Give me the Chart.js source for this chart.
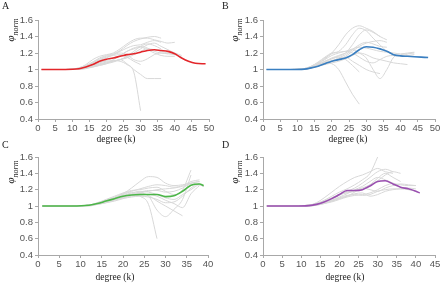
<!DOCTYPE html>
<html lang="en">
<head>
<meta charset="UTF-8">
<title>phi norm vs degree</title>
<script src="https://cdn.jsdelivr.net/npm/chart.js"></script>
<style>
  html, body { margin: 0; padding: 0; background: #fff; }
  body { width: 440px; height: 285px; position: relative; overflow: hidden; }
  canvas { position: absolute; }
  .lbl { position: absolute; font-family: "Liberation Serif", "Times New Roman", serif; color: #222; white-space: nowrap; }
  .letter { font-size: 10px; }
  .xt { font-size: 9.5px; transform: translateX(-50%); }
  .yt { font-size: 11px; transform: translate(-50%, -50%) rotate(-90deg); font-style: italic; }
  .yt sub { font-size: 8px; font-style: italic; }
</style>
</head>
<body>
<canvas id="cA" width="220" height="142" style="left:0;top:0"></canvas>
<canvas id="cB" width="220" height="142" style="left:220px;top:0"></canvas>
<canvas id="cC" width="220" height="143" style="left:0;top:142px"></canvas>
<canvas id="cD" width="220" height="143" style="left:220px;top:142px"></canvas>

<div class="lbl letter" style="left:2px;top:0px">A</div>
<div class="lbl letter" style="left:222px;top:0px">B</div>
<div class="lbl letter" style="left:2px;top:139px">C</div>
<div class="lbl letter" style="left:222px;top:139px">D</div>

<div class="lbl yt" style="left:12px;top:30px">φ<sub>norm</sub></div>
<div class="lbl yt" style="left:236px;top:30px">φ<sub>norm</sub></div>
<div class="lbl yt" style="left:12px;top:172px">φ<sub>norm</sub></div>
<div class="lbl yt" style="left:236px;top:172px">φ<sub>norm</sub></div>

<div class="lbl xt" style="left:116px;top:134px">degree (k)</div>
<div class="lbl xt" style="left:348px;top:134px">degree (k)</div>
<div class="lbl xt" style="left:115px;top:272px">degree (k)</div>
<div class="lbl xt" style="left:345px;top:272px">degree (k)</div>

<script>
// degree grids (x positions of the sampled values)
const kA = [1, 8, 12, 14, 16, 18, 20, 22, 24, 26, 28, 30, 32, 34, 36, 38, 40, 42, 44, 46, 48, 49];
const kB = [1, 8, 12, 14, 16, 18, 20, 22, 24, 26, 28, 30, 32, 34, 36, 38, 40, 42, 44, 46, 48];
const kC = [1, 8, 12, 14, 16, 18, 20, 22, 24, 26, 28, 30, 32, 34, 36, 38, 39];
const kD = [1, 8, 12, 14, 16, 18, 20, 22, 24, 26, 28, 30, 32, 34, 36, 38, 40, 41];

// highlighted (average) series
const mainA = [1, 1, 1.01, 1.03, 1.06, 1.10, 1.125, 1.14, 1.16, 1.18, 1.19, 1.21, 1.23, 1.24, 1.23, 1.22, 1.19, 1.14, 1.10, 1.075, 1.07, 1.07];
const mainB = [1, 1, 1.005, 1.02, 1.04, 1.07, 1.10, 1.12, 1.14, 1.18, 1.24, 1.275, 1.27, 1.25, 1.22, 1.18, 1.165, 1.16, 1.155, 1.15, 1.145];
const mainC = [1, 1, 1.01, 1.03, 1.06, 1.09, 1.12, 1.135, 1.14, 1.14, 1.14, 1.115, 1.125, 1.18, 1.255, 1.27, 1.25];
const mainD = [1, 1, 1.005, 1.02, 1.05, 1.09, 1.14, 1.19, 1.19, 1.20, 1.245, 1.30, 1.31, 1.27, 1.23, 1.21, 1.18, 1.16];

// individual (gray) series
const grayA = [
  [1, 1, 1.01, 1.04, 1.09, 1.14, 1.17, 1.19, 1.23, 1.29, 1.34, 1.37, 1.39, 1.40, 1.38],
  [1, 1, 1.02, 1.06, 1.12, 1.16, 1.18, 1.20, 1.25, 1.31, 1.36, 1.38, 1.38, 1.36, 1.34, 1.32, 1.33],
  [1, 1, 1.01, 1.03, 1.07, 1.11, 1.14, 1.18, 1.22, 1.26, 1.29, 1.30, 1.33, 1.35, 1.33],
  [1, 1, 1.01, 1.02, 1.05, 1.08, 1.11, 1.14, 1.17, 1.22, 1.26, 1.28, 1.26, 1.22, 1.20, 1.19, 1.18],
  [1, 1, 1.00, 1.02, 1.04, 1.06, 1.08, 1.10, 1.12, 1.15, 1.20, 1.25, 1.30, 1.32, 1.28, 1.24, 1.20, 1.17],
  [1, 1, 1.01, 1.03, 1.06, 1.09, 1.10, 1.11, 1.10, 1.06, 0.97, 0.50],
  [1, 1, 1.01, 1.02, 1.04, 1.06, 1.08, 1.10, 1.12, 1.07, 1.00, 0.94, 0.89, 0.89, 0.89],
  [1, 1, 1.01, 1.03, 1.05, 1.07, 1.09, 1.10, 1.12, 1.14, 1.18, 1.22, 1.25, 1.24, 1.22, 1.20, 1.18, 1.15],
  [1, 1, 1.00, 1.01, 1.03, 1.05, 1.07, 1.09, 1.12, 1.16, 1.22, 1.28, 1.31, 1.29, 1.25],
  [1, 1, 1.02, 1.05, 1.09, 1.13, 1.16, 1.18, 1.20, 1.18, 1.12, 1.10, 1.13, 1.18, 1.20, 1.19],
  [1, 1, 1.01, 1.02, 1.03, 1.05, 1.07, 1.12, 1.17, 1.22, 1.25, 1.27, 1.24, 1.20, 1.17, 1.16, 1.16],
  [1, 1, 1.01, 1.04, 1.08, 1.12, 1.15, 1.17, 1.18, 1.15, 1.10, 1.06]
];
const grayB = [
  [1, 1, 1.01, 1.03, 1.07, 1.13, 1.20, 1.30, 1.42, 1.50, 1.53, 1.50, 1.46, 1.40, 1.36],
  [1, 1, 1.01, 1.04, 1.08, 1.14, 1.19, 1.22, 1.30, 1.42, 1.50, 1.47, 1.38, 1.30, 1.22, 1.18, 1.17, 1.18],
  [1, 1, 1.01, 1.02, 1.05, 1.09, 1.13, 1.16, 1.20, 1.30, 1.42, 1.48, 1.45, 1.40],
  [1, 1, 1.01, 1.03, 1.06, 1.08, 1.07, 1.00, 0.85, 0.70, 0.58],
  [1, 1, 1.01, 1.03, 1.06, 1.10, 1.14, 1.17, 1.20, 1.24, 1.20, 1.14, 1.00, 0.89, 1.00, 1.15, 1.18, 1.19, 1.20],
  [1, 1, 1.00, 1.02, 1.05, 1.08, 1.11, 1.13, 1.15, 1.10, 1.05, 1.00, 0.97, 0.95],
  [1, 1, 1.01, 1.03, 1.06, 1.10, 1.13, 1.15, 1.12, 1.05, 0.97],
  [1, 1, 1.01, 1.03, 1.05, 1.08, 1.10, 1.12, 1.16, 1.22, 1.28, 1.32, 1.34, 1.35, 1.33],
  [1, 1, 1.01, 1.04, 1.09, 1.15, 1.20, 1.21, 1.22, 1.25, 1.27, 1.26, 1.24, 1.22, 1.21, 1.20, 1.19, 1.20, 1.21],
  [1, 1, 1.00, 1.02, 1.04, 1.06, 1.08, 1.10, 1.13, 1.17, 1.20, 1.18, 1.14, 1.12, 1.10, 1.08, 1.07, 1.06],
  [1, 1, 1.01, 1.02, 1.04, 1.07, 1.10, 1.14, 1.18, 1.24, 1.30, 1.33, 1.31, 1.28, 1.27],
  [1, 1, 1.01, 1.03, 1.07, 1.12, 1.17, 1.20, 1.22, 1.20, 1.15, 1.10, 1.08, 1.12, 1.16, 1.17, 1.16, 1.17, 1.18]
];
const grayC = [
  [1, 1, 1.01, 1.03, 1.06, 1.10, 1.15, 1.22, 1.30, 1.36, 1.35, 1.28, 1.25, 1.26, 1.28, 1.30],
  [1, 1, 1.01, 1.04, 1.08, 1.12, 1.16, 1.19, 1.20, 1.22, 1.23, 1.18, 1.14, 1.20, 1.44],
  [1, 1, 1.01, 1.03, 1.06, 1.10, 1.14, 1.17, 1.12, 1.02, 0.60],
  [1, 1, 1.01, 1.02, 1.05, 1.08, 1.11, 1.14, 1.16, 1.13, 1.06, 1.00, 0.94, 0.88],
  [1, 1, 1.01, 1.03, 1.05, 1.08, 1.11, 1.13, 1.15, 1.12, 0.95, 0.87, 0.96, 1.08, 1.38],
  [1, 1, 1.01, 1.02, 1.04, 1.07, 1.10, 1.13, 1.16, 1.18, 1.20, 1.21, 1.22, 1.24, 1.27, 1.26, 1.24],
  [1, 1, 1.01, 1.03, 1.06, 1.09, 1.12, 1.15, 1.17, 1.19, 1.19, 1.17, 1.18, 1.22, 1.28, 1.30],
  [1, 1, 1.00, 1.02, 1.04, 1.06, 1.09, 1.11, 1.12, 1.11, 1.08, 1.04, 1.05, 1.12, 1.22, 1.28],
  [1, 1, 1.01, 1.03, 1.07, 1.11, 1.15, 1.18, 1.21, 1.24, 1.26, 1.25, 1.23, 1.25, 1.30, 1.32],
  [1, 1, 1.01, 1.03, 1.05, 1.08, 1.10, 1.12, 1.13, 1.14, 1.12, 1.07, 1.03, 0.98, 1.15, 1.25],
  [1, 1, 1.01, 1.04, 1.07, 1.10, 1.13, 1.16, 1.18, 1.17, 1.14, 1.10, 1.08, 1.14, 1.20, 1.26, 1.24]
];
const grayD = [
  [1, 1, 1.01, 1.04, 1.10, 1.17, 1.24, 1.30, 1.35, 1.38, 1.42, 1.46, 1.42, 1.40],
  [1, 1, 1.01, 1.03, 1.07, 1.12, 1.17, 1.21, 1.26, 1.32, 1.40, 1.60],
  [1, 1, 1.01, 1.02, 1.05, 1.09, 1.13, 1.18, 1.22, 1.28, 1.35, 1.42, 1.45, 1.42],
  [1, 1, 1.00, 1.02, 1.04, 1.07, 1.11, 1.15, 1.20, 1.24, 1.30, 1.35, 1.32, 1.28, 1.26, 1.25, 1.25],
  [1, 1, 1.01, 1.02, 1.04, 1.07, 1.10, 1.13, 1.14, 1.13, 1.14, 1.18, 1.20, 1.21, 1.21, 1.20, 1.18],
  [1, 1, 1.00, 1.01, 1.03, 1.06, 1.09, 1.12, 1.15, 1.16, 1.12, 1.14, 1.18, 1.20, 1.21, 1.22, 1.21],
  [1, 1, 1.01, 1.03, 1.06, 1.10, 1.14, 1.17, 1.19, 1.22, 1.26, 1.31, 1.38, 1.42, 1.40],
  [1, 1, 1.01, 1.02, 1.04, 1.06, 1.09, 1.12, 1.17, 1.22, 1.20, 1.18, 1.22, 1.25, 1.27, 1.26, 1.25],
  [1, 1, 1.00, 1.01, 1.03, 1.05, 1.08, 1.11, 1.13, 1.14, 1.16, 1.20, 1.25, 1.28],
  [1, 1, 1.01, 1.03, 1.06, 1.10, 1.14, 1.16, 1.18, 1.20, 1.26, 1.34, 1.40, 1.35, 1.30]
];

const yTicks = [0.4, 0.6, 0.8, 1, 1.2, 1.4, 1.6];
const tickFont = { family: '"Liberation Sans", Arial, sans-serif', size: 9.5 };
const axisColor = '#a8a8a8';

function pts(ks, vals) {
  return vals.map((v, i) => ({ x: ks[i], y: v }));
}

// box = [left axis width, right pad, top pad, x-axis height]
function makePanel(id, ks, main, color, grays, xMax, box) {
  const datasets = [{
    data: pts(ks, main), borderColor: color, borderWidth: 1.6
  }];
  grays.forEach(g => datasets.push({ data: pts(ks, g), borderColor: '#d8d8d8', borderWidth: 1 }));

  new Chart(document.getElementById(id), {
    type: 'line',
    data: { datasets },
    options: {
      responsive: false,
      animation: false,
      devicePixelRatio: 1,
      layout: { padding: { left: 0, right: box[1], top: box[2], bottom: 0 } },
      elements: { point: { radius: 0 }, line: { cubicInterpolationMode: 'monotone', fill: false } },
      plugins: { legend: { display: false }, tooltip: { enabled: false } },
      scales: {
        x: {
          type: 'linear', min: 0, max: xMax,
          ticks: { stepSize: 5, font: tickFont, color: '#555', padding: 1, maxRotation: 0 },
          grid: { drawOnChartArea: false, tickLength: 3, color: axisColor },
          border: { color: axisColor },
          afterFit: s => { s.height = box[3]; s.paddingLeft = 0; s.paddingRight = 0; }
        },
        y: {
          min: 0.4, max: 1.6,
          afterBuildTicks: s => { s.ticks = yTicks.map(v => ({ value: v })); },
          ticks: { font: tickFont, color: '#555', padding: 2, callback: v => String(+v.toFixed(1)) },
          grid: { drawOnChartArea: false, tickLength: 3, color: axisColor },
          border: { color: axisColor },
          afterFit: s => { s.width = box[0]; s.paddingTop = 0; s.paddingBottom = 0; }
        }
      }
    }
  });
}

makePanel('cA', kA, mainA, '#e3262a', grayA, 50, [38, 11, 20, 23]);
makePanel('cB', kB, mainB, '#3a7fc1', grayB, 50, [43, 5, 20, 23]);
makePanel('cC', kC, mainC, '#4cb648', grayC, 40, [38, 12, 15, 30]);
makePanel('cD', kD, mainD, '#9a4fb0', grayD, 45, [43, 5, 15, 30]);
</script>
</body>
</html>
